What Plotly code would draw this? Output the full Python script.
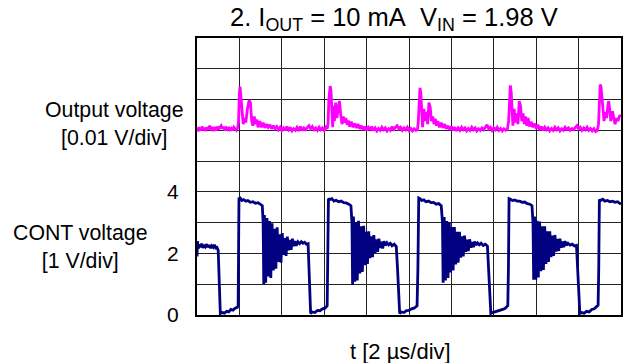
import plotly.graph_objects as go

# ---- data (time in divisions of 2 us, values in screen divisions) ----
cont_t = [0.00, 0.01, 0.03, 0.05, 0.08, 0.11, 0.14, 0.17, 0.20, 0.23, 0.26, 0.29, 0.32, 0.35, 0.38, 0.41, 0.44, 0.47,
          0.50, 0.53, 0.55,
          0.60, 0.65, 0.70, 0.75, 0.80, 0.85, 0.90, 0.95, 0.97,
          0.98, 0.99,
          1.02, 1.06, 1.10, 1.15, 1.20, 1.26, 1.32, 1.38, 1.44, 1.50, 1.54,
          1.56, 1.575,
          1.59, 1.62, 1.65, 1.68, 1.71, 1.74, 1.77, 1.80, 1.83, 1.86, 1.89, 1.92, 1.95, 1.98, 2.01, 2.04, 2.07, 2.10,
          2.13, 2.16, 2.19, 2.22, 2.25, 2.28, 2.31, 2.34,
          2.38, 2.42, 2.46, 2.50, 2.54, 2.58, 2.62,
          2.64, 2.68,
          2.72, 2.78, 2.84, 2.90, 2.96, 3.02, 3.07,
          3.085, 3.10,
          3.13, 3.18, 3.23, 3.28, 3.34, 3.40, 3.46, 3.52, 3.58, 3.63,
          3.655, 3.67,
          3.69, 3.72, 3.75, 3.78, 3.81, 3.84, 3.87, 3.90, 3.93, 3.96, 3.99, 4.02, 4.05, 4.08, 4.11, 4.14, 4.17, 4.20,
          4.23, 4.26, 4.29, 4.32, 4.35, 4.38, 4.41, 4.44,
          4.48, 4.52, 4.56, 4.60, 4.65, 4.70,
          4.73, 4.78,
          4.82, 4.88, 4.94, 5.00, 5.06, 5.12, 5.19,
          5.21, 5.23,
          5.26, 5.30, 5.35, 5.40, 5.46, 5.52, 5.58, 5.64, 5.70, 5.76,
          5.79, 5.805,
          5.83, 5.86, 5.89, 5.92, 5.95, 5.98, 6.01, 6.04, 6.07, 6.10, 6.13, 6.16, 6.19, 6.22, 6.25, 6.28, 6.31, 6.34,
          6.37, 6.40, 6.43, 6.46, 6.49, 6.52, 6.55, 6.58,
          6.62, 6.66, 6.70, 6.75, 6.80, 6.85,
          6.88, 6.93,
          6.97, 7.03, 7.09, 7.15, 7.21, 7.27, 7.33,
          7.345, 7.36,
          7.39, 7.44, 7.49, 7.55, 7.61, 7.67, 7.73, 7.79, 7.85, 7.90,
          7.925, 7.94,
          7.96, 7.99, 8.02, 8.05, 8.08, 8.11, 8.14, 8.17, 8.20, 8.23, 8.26, 8.29, 8.32, 8.35, 8.38, 8.41, 8.44, 8.47,
          8.50, 8.53, 8.56, 8.59, 8.62, 8.65, 8.68, 8.71,
          8.75, 8.80, 8.85, 8.90, 8.95,
          8.98, 9.03,
          9.07, 9.13, 9.19, 9.25, 9.31, 9.37, 9.43, 9.46,
          9.475, 9.49,
          9.52, 9.57, 9.62, 9.68, 9.74, 9.80, 9.86, 9.92, 9.97, 10.0]
cont_v = [1.90, 2.40, 2.15, 2.30, 2.20, 2.32, 2.18, 2.28, 2.22, 2.30, 2.20, 2.27, 2.17, 2.25, 2.20, 2.28, 2.18, 2.20,
          2.10, 0.80, 0.05,
          0.08, 0.06, 0.12, 0.10, 0.18, 0.16, 0.22, 0.25, 0.30,
          1.50, 3.78,
          3.80, 3.72, 3.75, 3.70, 3.72, 3.66, 3.68, 3.63, 3.65, 3.60, 3.55,
          3.00, 1.00,
          3.25, 1.05, 3.15, 1.25, 3.05, 1.20, 2.98, 1.45, 2.80, 1.50, 2.85, 1.72, 2.62, 1.70, 2.66, 1.95, 2.50, 1.92,
          2.55, 2.10, 2.44, 2.12, 2.48, 2.24, 2.40, 2.25,
          2.38, 2.32, 2.38, 2.33, 2.36, 2.30, 2.32,
          1.50, 0.05,
          0.10, 0.08, 0.15, 0.14, 0.20, 0.22, 0.30,
          1.50, 3.78,
          3.75, 3.78, 3.70, 3.73, 3.68, 3.70, 3.65, 3.64, 3.60, 3.55,
          3.00, 0.98,
          3.20, 1.08, 3.02, 1.12, 3.06, 1.35, 2.88, 1.40, 2.90, 1.62, 2.70, 1.66, 2.72, 1.85, 2.56, 1.88, 2.60, 2.02,
          2.46, 2.05, 2.48, 2.18, 2.38, 2.16, 2.40, 2.26,
          2.35, 2.28, 2.33, 2.25, 2.30, 2.22,
          1.50, 0.05,
          0.10, 0.08, 0.14, 0.15, 0.20, 0.22, 0.30,
          1.50, 3.80,
          3.78, 3.72, 3.74, 3.68, 3.70, 3.65, 3.66, 3.60, 3.62, 3.55,
          3.00, 1.05,
          3.18, 1.12, 3.05, 1.20, 3.02, 1.38, 2.86, 1.45, 2.86, 1.64, 2.70, 1.70, 2.70, 1.86, 2.56, 1.90, 2.58, 2.05,
          2.45, 2.08, 2.46, 2.19, 2.37, 2.20, 2.39, 2.27,
          2.34, 2.28, 2.33, 2.26, 2.30, 2.24,
          1.50, 0.05,
          0.08, 0.10, 0.12, 0.16, 0.18, 0.22, 0.30,
          1.50, 3.78,
          3.76, 3.72, 3.74, 3.70, 3.70, 3.66, 3.67, 3.62, 3.60, 3.55,
          3.00, 1.15,
          3.20, 1.15, 3.06, 1.22, 3.04, 1.42, 2.88, 1.46, 2.88, 1.66, 2.72, 1.72, 2.72, 1.88, 2.58, 1.92, 2.60, 2.06,
          2.47, 2.08, 2.48, 2.19, 2.39, 2.20, 2.40, 2.26,
          2.33, 2.27, 2.30, 2.24, 2.26,
          1.50, 0.05,
          0.08, 0.06, 0.12, 0.10, 0.18, 0.20, 0.28, 0.32,
          1.50, 3.75,
          3.72, 3.76, 3.70, 3.72, 3.68, 3.70, 3.66, 3.68, 3.63, 3.60]

out_t = [0.00, 0.03, 0.06, 0.09, 0.12, 0.15, 0.18, 0.21, 0.24, 0.27, 0.30, 0.33, 0.36, 0.39, 0.42, 0.45, 0.48, 0.51,
         0.54, 0.57, 0.60, 0.63, 0.66, 0.69, 0.72, 0.75, 0.78, 0.81, 0.84, 0.87, 0.90, 0.93, 0.96,
         0.98, 1.00, 1.015, 1.035, 1.06, 1.09, 1.12, 1.15, 1.19, 1.23, 1.26, 1.29, 1.32, 1.35, 1.38, 1.41, 1.44, 1.48,
         1.52, 1.56, 1.60, 1.64, 1.68, 1.72, 1.76, 1.80, 1.84, 1.88, 1.92, 1.96, 2.00, 2.04, 2.08, 2.12, 2.16, 2.20,
         2.24, 2.28, 2.32, 2.36, 2.40, 2.44, 2.48, 2.52, 2.56, 2.60, 2.64, 2.68, 2.72, 2.76, 2.80, 2.84, 2.88, 2.92,
         2.96, 3.00, 3.04, 3.07,
         3.09, 3.11, 3.14, 3.16, 3.18, 3.20, 3.22, 3.24, 3.27, 3.30, 3.33, 3.36, 3.39, 3.42, 3.45, 3.48, 3.51, 3.54,
         3.57, 3.60, 3.64, 3.68, 3.72, 3.76, 3.80, 3.84, 3.88, 3.92, 3.96, 4.00, 4.04, 4.08, 4.12, 4.16, 4.20, 4.24,
         4.28, 4.32, 4.36, 4.40, 4.44, 4.48, 4.52, 4.56, 4.60, 4.64, 4.68, 4.72, 4.76, 4.80, 4.84, 4.88, 4.92, 4.96,
         5.00, 5.04, 5.08, 5.12, 5.16, 5.20,
         5.22, 5.24, 5.26, 5.28, 5.30, 5.32, 5.35, 5.38, 5.41, 5.44, 5.47, 5.50, 5.53, 5.56, 5.59, 5.62, 5.65, 5.68,
         5.72, 5.76, 5.80, 5.84, 5.88, 5.92, 5.96, 6.00, 6.04, 6.08, 6.12, 6.16, 6.20, 6.24, 6.28, 6.32, 6.36, 6.40,
         6.44, 6.48, 6.52, 6.56, 6.60, 6.64, 6.68, 6.72, 6.76, 6.80, 6.84, 6.88, 6.92, 6.96, 7.00, 7.04, 7.08, 7.12,
         7.16, 7.20, 7.24, 7.28, 7.32,
         7.35, 7.37, 7.39, 7.41, 7.43, 7.45, 7.48, 7.51, 7.54, 7.57, 7.60, 7.63, 7.66, 7.69, 7.72, 7.75, 7.78, 7.81,
         7.84, 7.88, 7.92, 7.96, 8.00, 8.04, 8.08, 8.12, 8.16, 8.20, 8.24, 8.28, 8.32, 8.36, 8.40, 8.44, 8.48, 8.52,
         8.56, 8.60, 8.64, 8.68, 8.72, 8.76, 8.80, 8.84, 8.88, 8.92, 8.96, 9.00, 9.04, 9.08, 9.12, 9.16, 9.20, 9.24,
         9.28, 9.32, 9.36, 9.40, 9.44,
         9.47, 9.49, 9.51, 9.53, 9.56, 9.60, 9.63, 9.66, 9.69, 9.71, 9.74, 9.76, 9.80, 9.83, 9.86, 9.90, 9.93, 9.96,
         10.0]
out_v = [6.10, 5.98, 6.05, 6.00, 6.12, 6.02, 6.08, 5.98, 6.10, 6.03, 6.15, 6.05, 6.10, 5.98, 6.06, 6.00, 6.12, 6.02,
         6.10, 6.15, 6.05, 6.12, 6.00, 6.08, 6.03, 6.10, 6.02, 6.06, 6.00, 6.10, 6.05, 6.00, 6.08,
         6.30, 7.20, 7.42, 7.10, 6.50, 6.20, 6.40, 6.25, 6.70, 6.98, 6.90, 6.30, 6.15, 6.45, 6.20, 6.35, 6.10, 6.30,
         6.10, 6.25, 6.08, 6.20, 6.10, 6.18, 6.05, 6.15, 6.05, 6.12, 6.02, 6.10, 6.00, 6.08, 6.00, 6.12, 6.02, 6.10,
         5.98, 6.05, 6.00, 6.10, 6.02, 6.12, 6.00, 6.08, 6.02, 6.10, 6.15, 6.05, 6.12, 6.02, 6.08, 6.00, 6.10, 6.02,
         6.08, 6.00, 6.10, 6.05,
         6.20, 7.00, 7.44, 7.30, 6.60, 6.10, 6.80, 6.30, 6.90, 6.40, 6.70, 6.95, 6.50, 6.20, 6.45, 6.25, 6.40, 6.18,
         6.32, 6.12, 6.28, 6.10, 6.22, 6.08, 6.20, 6.05, 6.15, 6.02, 6.12, 6.00, 6.10, 6.03, 6.12, 6.00, 6.08, 5.98,
         6.06, 6.00, 6.10, 6.02, 6.08, 5.98, 6.05, 6.00, 6.12, 6.03, 6.10, 6.15, 6.05, 6.10, 6.00, 6.08, 6.02, 6.10,
         6.00, 6.06, 5.98, 6.05, 6.00, 6.02,
         6.30, 7.10, 7.38, 7.20, 6.50, 6.10, 6.70, 6.30, 6.60, 6.20, 6.90, 6.75, 6.30, 6.45, 6.20, 6.38, 6.15, 6.30,
         6.10, 6.25, 6.08, 6.20, 6.05, 6.15, 6.02, 6.12, 6.00, 6.10, 5.98, 6.08, 6.00, 6.10, 6.02, 6.08, 5.98, 6.06,
         6.00, 6.10, 6.02, 6.08, 5.98, 6.05, 6.00, 6.08, 6.02, 6.10, 6.18, 6.05, 6.10, 6.00, 6.08, 6.02, 6.10, 6.00,
         6.06, 5.98, 6.05, 6.00, 6.03,
         6.30, 7.20, 7.46, 7.25, 6.60, 6.15, 6.70, 6.25, 6.55, 6.20, 6.95, 6.80, 6.30, 6.55, 6.20, 6.45, 6.15, 6.40,
         6.12, 6.28, 6.10, 6.22, 6.05, 6.18, 6.02, 6.12, 6.00, 6.10, 6.02, 6.08, 5.98, 6.06, 6.00, 6.10, 6.02, 6.08,
         5.98, 6.05, 6.00, 6.10, 6.03, 6.08, 6.00, 6.06, 6.02, 6.10, 6.15, 6.05, 6.10, 6.00, 6.08, 6.02, 6.10, 6.00,
         6.06, 5.98, 6.05, 5.96, 6.00,
         6.20, 7.20, 7.49, 7.40, 6.80, 6.30, 6.60, 6.40, 6.80, 6.95, 6.60, 6.30, 6.62, 6.35, 6.20, 6.40, 6.30, 6.45,
         6.50]

y_tick_vals = [0, 2, 4]
y_tick_text = ["0", "2", "4"]
y_grid_minor = [1, 3, 5, 6, 7, 8]
x_tick_vals = [0, 1, 2, 3, 4, 5, 6, 7, 8, 9, 10]

title_text = "2. I<sub>OUT</sub> = 10 mA&nbsp;&nbsp;V<sub>IN</sub> = 1.98 V"
out_label = "Output voltage<br>[0.01 V/div]"
cont_label = "CONT voltage<br>[1 V/div]"
x_label = "t [2 µs/div]"

FONT = "Arial, Liberation Sans, sans-serif"
GRID = "#222222"

fig = go.Figure()
fig.add_trace(go.Scatter(x=out_t, y=out_v, mode="lines",
                         line=dict(color="#FF00FF", width=2.8), hoverinfo="skip"))
fig.add_trace(go.Scatter(x=cont_t, y=cont_v, mode="lines",
                         line=dict(color="#000080", width=2.8), hoverinfo="skip"))

fig.update_layout(
    width=624, height=363,
    margin=dict(l=197, r=1, t=38, b=48),
    paper_bgcolor="white", plot_bgcolor="white",
    showlegend=False,
    font=dict(family=FONT, size=20, color="black"),
)
fig.update_xaxes(range=[0, 10], tickvals=x_tick_vals, showticklabels=False,
                 showgrid=True, gridcolor=GRID, gridwidth=1.3,
                 zeroline=False, showline=True, mirror=True, linecolor="black", linewidth=2)
fig.update_yaxes(range=[0, 9], tickvals=y_tick_vals, ticktext=y_tick_text,
                 showgrid=True, gridcolor=GRID, gridwidth=1.3, ticks="",
                 minor=dict(tickmode="array", tickvals=y_grid_minor, showgrid=True,
                            gridcolor=GRID, gridwidth=1.3, ticks=""),
                 ticklabelstandoff=12, tickfont=dict(size=21),
                 zeroline=False, showline=True, mirror=True, linecolor="black", linewidth=2)

fig.add_annotation(text=title_text, xref="paper", yref="paper", x=0.464, y=1.068,
                   xanchor="center", yanchor="middle", showarrow=False,
                   font=dict(family=FONT, size=25.5, color="black"))
fig.add_annotation(text=out_label, xref="paper", yref="paper", x=-0.195, y=0.69,
                   xanchor="center", yanchor="middle", align="center", showarrow=False,
                   font=dict(family=FONT, size=21.3, color="black"))
fig.add_annotation(text=cont_label, xref="paper", yref="paper", x=-0.275, y=0.247,
                   xanchor="center", yanchor="middle", align="center", showarrow=False,
                   font=dict(family=FONT, size=21.3, color="black"))
fig.add_annotation(text=x_label, xref="paper", yref="paper", x=0.481, y=-0.130,
                   xanchor="center", yanchor="middle", showarrow=False,
                   font=dict(family=FONT, size=22, color="black"))

# remove the default 8 px page margin so the figure sits at the window's corner
fig.write_html("out.html", config={"displayModeBar": False},
               post_script="document.body.style.margin='0px';")
